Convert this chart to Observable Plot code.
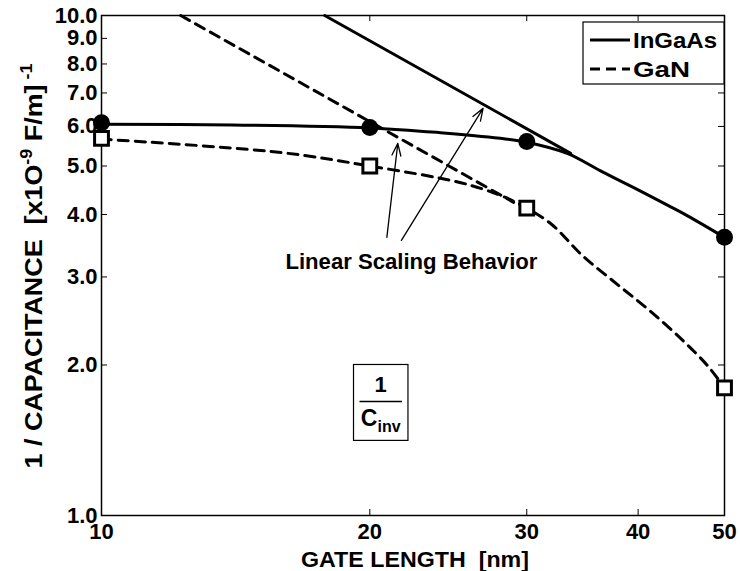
<!DOCTYPE html>
<html><head><meta charset="utf-8">
<script src="https://cdn.jsdelivr.net/npm/d3@7"></script>
<script src="https://cdn.jsdelivr.net/npm/@observablehq/plot@0.6"></script>
<style>body{margin:0;background:#fff} svg{font-family:"Liberation Sans",Arial,sans-serif}</style>
</head><body><div id="chart"></div>
<script>
// Measured markers
const gateLength = [10, 20, 30, 50];
const ingaasPoints = [6.1, 5.97, 5.6, 3.6];
const ganPoints = [5.68, 5.0, 4.12, 1.8];
const ingaasCurveL = [10, 14, 20, 24, 28, 30, 33.3, 36.3, 39.5, 43.2, 45.5, 50];
const ingaasCurveV = [6.06, 6.04, 5.96, 5.83, 5.68, 5.58, 5.3, 4.89, 4.53, 4.17, 3.97, 3.6];
const ganCurveL = [10, 15.9, 20, 25.3, 28, 30, 32, 34.7, 37.9, 41.3, 45, 47.9, 50];
const ganCurveV = [5.66, 5.32, 5.0, 4.63, 4.37, 4.12, 3.82, 3.3, 2.9, 2.56, 2.23, 1.99, 1.8];
// Linear scaling lines
const ingaasLinearL = [17.8, 33.6];
const ingaasLinearV = [10, 5.3];
const ganLinearL = [12.27, 29];
const ganLinearV = [10, 4.23];
// Annotation arrows
const arrowFromL = [20.9, 21.7];
const arrowFromV = [3.6, 3.55];
const arrowToL = [21.5, 26.8];
const arrowToV = [5.55, 6.52];
// Ticks
const xTicks = [10, 20, 30, 40, 50];
const yTicks = [1, 2, 3, 4, 5, 6, 7, 8, 9, 10];
const seriesNames = ["InGaAs", "GaN"];

const pts = (L, V) => L.map((l, i) => ({x: l, y: V[i]}));
const W = 740, H = 571, ML = 101, MR = 16, MT = 15, MB = 56;
const PW = W - ML - MR, PH = H - MT - MB, TL = 6;

const chart = Plot.plot({
  width: W, height: H,
  marginLeft: ML, marginRight: MR, marginTop: MT, marginBottom: MB,
  style: {background: "#fff", color: "#000", fontFamily: "Liberation Sans, Arial, sans-serif"},
  x: {type: "log", domain: [10, 50]},
  y: {type: "log", domain: [1, 10]},
  marks: [
    // tick labels
    Plot.axisX({ticks: xTicks, tickSize: 0, tickPadding: 8, tickFormat: d => String(d), fontSize: 22, fontWeight: "bold", label: null}),
    Plot.axisY({ticks: yTicks, tickSize: 0, tickPadding: 4, tickFormat: d => d.toFixed(1), fontSize: 22, fontWeight: "bold", label: null}),
    // inward ticks on all four sides
    Plot.tickX(xTicks, {x: d => d, insetTop: PH - TL, stroke: "#000", strokeWidth: 1}),
    Plot.tickX(xTicks, {x: d => d, insetBottom: PH - TL, stroke: "#000", strokeWidth: 1}),
    Plot.tickY(yTicks, {y: d => d, insetRight: PW - TL, stroke: "#000", strokeWidth: 1}),
    Plot.tickY(yTicks, {y: d => d, insetLeft: PW - TL, stroke: "#000", strokeWidth: 1}),
    Plot.frame({stroke: "#000", strokeWidth: 1.5}),
    // linear scaling lines
    Plot.line(pts(ingaasLinearL, ingaasLinearV), {x: "x", y: "y", stroke: "#000", strokeWidth: 3}),
    Plot.line(pts(ganLinearL, ganLinearV), {x: "x", y: "y", stroke: "#000", strokeWidth: 3, strokeDasharray: "10,7"}),
    // curves
    Plot.line(pts(ingaasCurveL, ingaasCurveV), {x: "x", y: "y", stroke: "#000", strokeWidth: 3, curve: "catmull-rom"}),
    Plot.line(pts(ganCurveL, ganCurveV), {x: "x", y: "y", stroke: "#000", strokeWidth: 3, strokeDasharray: "10,7", curve: "catmull-rom"}),
    // markers
    Plot.dot(pts(gateLength, ingaasPoints), {x: "x", y: "y", r: 8.5, fill: "#000", stroke: "none"}),
    Plot.dot(pts(gateLength, ganPoints), {x: "x", y: "y", r: 7.8, symbol: "square", fill: "#fff", stroke: "#000", strokeWidth: 3}),
    // arrows
    Plot.arrow(arrowFromL.map((l, i) => ({x1: l, y1: arrowFromV[i], x2: arrowToL[i], y2: arrowToV[i]})),
      {x1: "x1", y1: "y1", x2: "x2", y2: "y2", stroke: "#000", strokeWidth: 1.3, headLength: 15, headAngle: 40})
  ]
});

const svg = d3.select(chart);
const sx = chart.scale("x"), sy = chart.scale("y");

// Annotation text
svg.append("text").attr("x", sx.apply(22.3)).attr("y", sy.apply(3.22) + 8)
  .attr("text-anchor", "middle").attr("font-size", 22).attr("font-weight", "bold")
  .attr("textLength", 252).attr("lengthAdjust", "spacingAndGlyphs").attr("fill", "#000")
  .text("Linear Scaling Behavior");

// Y-axis title
const yt = svg.append("text")
  .attr("transform", `translate(42,266) rotate(-90)`)
  .attr("text-anchor", "middle")
  .attr("font-size", 24).attr("font-weight", "bold").attr("fill", "#000")
  .attr("textLength", 405).attr("lengthAdjust", "spacingAndGlyphs");
yt.append("tspan").text("1 / CAPACITANCE  [x1O");
yt.append("tspan").attr("font-size", 16).attr("dy", -10).text("-9");
yt.append("tspan").attr("dy", 10).text(" F/m]");
yt.append("tspan").attr("font-size", 16).attr("dy", -10).text(" -1");

// X-axis title
svg.append("text").attr("x", 415).attr("y", 567).attr("text-anchor", "middle")
  .attr("font-size", 22).attr("font-weight", "bold").attr("fill", "#000")
  .attr("textLength", 228).attr("lengthAdjust", "spacingAndGlyphs")
  .text("GATE LENGTH  [nm]");

// 1/Cinv box
const bx0 = sx.apply(19.2), bx1 = sx.apply(22.1), by0 = sy.apply(2.0), by1 = sy.apply(1.41);
const g = svg.append("g");
g.append("rect").attr("x", bx0).attr("y", by0).attr("width", bx1 - bx0).attr("height", by1 - by0)
  .attr("fill", "#fff").attr("stroke", "#000").attr("stroke-width", 1.2);
const cx = (bx0 + bx1) / 2;
g.append("text").attr("x", cx).attr("y", by0 + 28).attr("text-anchor", "middle")
  .attr("font-size", 22).attr("font-weight", "bold").text("1");
g.append("line").attr("x1", bx0 + 6).attr("x2", bx1 - 6).attr("y1", by0 + 37).attr("y2", by0 + 37)
  .attr("stroke", "#000").attr("stroke-width", 1.3);
const ct = g.append("text").attr("x", cx).attr("y", by0 + 62).attr("text-anchor", "middle")
  .attr("font-size", 23).attr("font-weight", "bold");
ct.append("tspan").text("C");
ct.append("tspan").attr("font-size", 16).attr("dy", 6).text("inv");

// Legend
const lg = svg.append("g");
lg.append("rect").attr("x", 583).attr("y", 22).attr("width", 141).attr("height", 62)
  .attr("fill", "#fff").attr("stroke", "#000").attr("stroke-width", 1.2);
const dashes = [null, "10,6"];
const legendW = [84, 57];
seriesNames.forEach((name, i) => {
  const yy = 40 + i * 29;
  lg.append("line").attr("x1", 590).attr("x2", 630).attr("y1", yy).attr("y2", yy)
    .attr("stroke", "#000").attr("stroke-width", 3).attr("stroke-dasharray", dashes[i]);
  lg.append("text").attr("x", 633).attr("y", yy + 8).attr("text-anchor", "start")
    .attr("font-size", 22).attr("font-weight", "bold")
    .attr("textLength", legendW[i]).attr("lengthAdjust", "spacingAndGlyphs").text(name);
});

document.getElementById("chart").appendChild(chart);
</script>
</body></html>
